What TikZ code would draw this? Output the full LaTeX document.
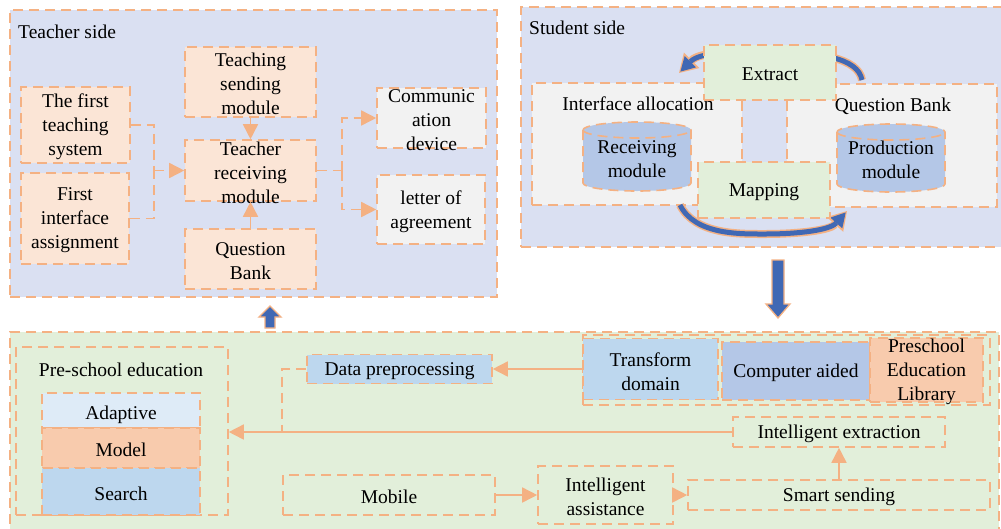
\documentclass[tikz,border=0pt]{standalone}
\usepackage{fontspec}
\setmainfont{Liberation Serif}
\usetikzlibrary{arrows.meta}
\definecolor{ora}{HTML}{F4B183}
\definecolor{panelblue}{HTML}{DAE0F2}
\definecolor{peach}{HTML}{FBE5D6}
\definecolor{lgray}{HTML}{F2F2F2}
\definecolor{lgreen}{HTML}{E2EFDA}
\definecolor{skyb}{HTML}{BDD7EE}
\definecolor{cylb}{HTML}{B4C7E7}
\definecolor{paleb}{HTML}{DEEBF7}
\definecolor{salmon}{HTML}{F8CBAD}
\definecolor{blu}{HTML}{4068B4}
\tikzset{
  fs/.style={font=\fontsize{19.5}{24}\selectfont},
  dsh/.style={dash pattern=on 10pt off 6pt},
  bx/.style={draw=ora, line width=1.6pt, dsh, inner sep=0pt, rectangle},
  txt/.style={fs, align=center, inner sep=0pt, text=black, yshift=-2pt},
  ln/.style={draw=ora, line width=1.6pt},
  dline/.style={ln, dsh},
  arr/.style={ln, -{Triangle[length=15pt,width=15pt]}},
  darr/.style={ln, dsh, -{Triangle[length=15pt,width=15pt]}},
  curvO/.style={draw=ora, line width=8pt, -{Triangle[length=18pt,width=22pt,line width=0pt]}},
  curvB/.style={draw=blu, line width=5pt, shorten >=2pt, -{Triangle[length=14pt,width=16pt,line width=0pt]}},
  curvOn/.style={draw=ora, line width=8pt},
  curvBn/.style={draw=blu, line width=5pt},
  blockarrow/.style={fill=blu, draw=ora, line width=1.3pt},
}
\begin{document}
\begin{tikzpicture}[x=1pt,y=-1pt]
\useasboundingbox (0,0) rectangle (1001,528);

% ---------------- Teacher side ----------------
\node[bx, fill=panelblue, minimum width=487pt, minimum height=287pt] (teacher) at (253.5,153.5) {};
\node[txt, anchor=west] (teacherlbl) at (18,30) {Teacher side};

\node[bx, fill=peach, minimum width=109pt, minimum height=76pt] (tfs) at (75.5,125) {};
\node[txt] (tfs-t) at (tfs) {The first\\teaching\\system};
\node[bx, fill=peach, minimum width=108pt, minimum height=91pt] (fia) at (75,218.5) {};
\node[txt] (fia-t) at (fia) {First\\interface\\assignment};
\node[bx, fill=peach, minimum width=131pt, minimum height=70pt] (tsm) at (250.5,82) {};
\node[txt] (tsm-t) at (tsm) {Teaching\\sending\\module};
\node[bx, fill=peach, minimum width=131pt, minimum height=61pt] (trm) at (250.5,170.5) {};
\node[txt] (trm-t) at (trm) {Teacher\\receiving\\module};
\node[bx, fill=peach, minimum width=131pt, minimum height=60pt] (qb) at (250.5,259) {};
\node[txt] (qb-t) at (qb) {Question\\Bank};
\node[bx, fill=lgray, minimum width=109pt, minimum height=60pt] (comm) at (431.5,118) {};
\node[txt] (comm-t) at (comm) {Communic\\ation\\device};
\node[bx, fill=lgray, minimum width=108pt, minimum height=69pt] (loa) at (431,209.5) {};
\node[txt] (loa-t) at (loa) {letter of\\agreement};

\coordinate (j1) at (154,170.5);
\coordinate (j2) at (342,170.5);
\draw[dline] (tfs.east) -| (j1);
\draw[dline] (fia.east) -| (j1);
\draw[darr] (j1) -- (trm.west);
\draw[arr] (tsm.south) -- (trm.north);
\draw[arr] (qb.north) -- (trm.south);
\draw[dline] (trm.east) -- (j2);
\draw[darr] (j2) |- (comm.west);
\draw[darr] (j2) |- (loa.west);

% ---------------- Student side ----------------
\node[bx, fill=panelblue, minimum width=489pt, minimum height=240pt] (student) at (765.5,127) {};
\node[txt, anchor=west] (studentlbl) at (529,26) {Student side};

\node[bx, fill=lgray, minimum width=210pt, minimum height=122pt] (ialloc) at (637,144) {};
\node[bx, fill=lgray, minimum width=210pt, minimum height=123pt] (qbank) at (892,145.5) {};
\node[txt] (ialloc-t) at (638,102) {Interface allocation};
\node[txt] (qbank-t) at (893,104) {Question Bank};

% curved arrows (behind Extract / Mapping)
\coordinate (ca1) at (862,80);
\coordinate (ca2) at (679,73);
\coordinate (cb1) at (680,205);
\coordinate (cb2) at (847,211);
\draw[curvOn] (ca1) .. controls (858,58) and (820,52) .. (770,52);
\draw[curvBn] (ca1) .. controls (858,58) and (820,52) .. (770,52);
\draw[curvO] (770,52) .. controls (730,52) and (700,52) .. (ca2);
\draw[curvB] (770,52) .. controls (730,52) and (700,52) .. (ca2);
\draw[curvO] (cb1) .. controls (695,235) and (740,234) .. (765,234) .. controls (800,234) and (830,230) .. (cb2);
\draw[curvB] (cb1) .. controls (695,235) and (740,234) .. (765,234) .. controls (800,234) and (830,230) .. (cb2);

\node[bx, fill=lgreen, minimum width=132pt, minimum height=55pt] (extract) at (770,72.5) {};
\node[txt] (extract-t) at (extract) {Extract};
\node[bx, fill=lgreen, minimum width=132pt, minimum height=56pt] (mapping) at (764,190) {};
\node[txt] (mapping-t) at (mapping) {Mapping};

% cylinders
\path[fill=cylb] (583,130) -- (583,183) arc[start angle=180,end angle=0,x radius=54,y radius=8] -- (691,130) arc[start angle=0,end angle=-180,x radius=54,y radius=8] -- cycle;
\draw[dline] (583,130) -- (583,183) arc[start angle=180,end angle=0,x radius=54,y radius=8] -- (691,130) arc[start angle=0,end angle=-180,x radius=54,y radius=8] -- cycle;
\draw[dline] (583,130) arc[start angle=180,end angle=0,x radius=54,y radius=8];
\node[txt] (recv) at (637,157) {Receiving\\module};

\path[fill=cylb] (837,132) -- (837,184) arc[start angle=180,end angle=0,x radius=54,y radius=8] -- (945,132) arc[start angle=0,end angle=-180,x radius=54,y radius=8] -- cycle;
\draw[dline] (837,132) -- (837,184) arc[start angle=180,end angle=0,x radius=54,y radius=8] -- (945,132) arc[start angle=0,end angle=-180,x radius=54,y radius=8] -- cycle;
\draw[dline] (837,132) arc[start angle=180,end angle=0,x radius=54,y radius=8];
\node[txt] (prod) at (891,158) {Production\\module};

% ---------------- Bottom panel ----------------
\node[bx, fill=lgreen, minimum width=989pt, minimum height=208pt] (bottom) at (504.5,436) {};

% block arrows
\path[blockarrow] (772,260) -- (784,260) -- (784,304) -- (790,304) -- (778,318) -- (766,304) -- (772,304) -- cycle;
\path[blockarrow] (265,328) -- (275,328) -- (275,317) -- (281,317) -- (270,306) -- (259,317) -- (265,317) -- cycle;

\node[bx, minimum width=212pt, minimum height=168pt] (pse) at (122,431) {};
\node[txt] (pse-t) at (121,368) {Pre-school education};
\node[bx, fill=paleb, minimum width=158pt, minimum height=35pt] (adapt) at (121,410.5) {};
\node[txt] (adapt-t) at (121,413) {Adaptive};
\node[bx, fill=salmon, minimum width=158pt, minimum height=40pt] (model) at (121,448) {};
\node[txt] (model-t) at (model) {Model};
\node[bx, fill=skyb, minimum width=158pt, minimum height=47pt] (search) at (121,491.5) {};
\node[txt] (search-t) at (search) {Search};

\node[bx, fill=skyb, minimum width=185pt, minimum height=29pt] (dp) at (399.5,369) {};
\node[txt] (dp-t) at (dp) {Data preprocessing};

\node[bx, minimum width=407pt, minimum height=70pt] (tcp) at (786.5,370) {};
\node[bx, fill=skyb, minimum width=135pt, minimum height=61pt] (td) at (650.5,369) {};
\node[txt] (td-t) at (650.5,370) {Transform\\domain};
\node[bx, fill=cylb, minimum width=148pt, minimum height=58pt] (ca) at (796,371) {};
\node[txt] (ca-t) at (ca) {Computer aided};
\node[bx, fill=salmon, minimum width=113pt, minimum height=64pt] (pel) at (926.5,370) {};
\node[txt] (pel-t) at (pel) {Preschool\\Education\\Library};

\node[bx, minimum width=212pt, minimum height=30pt] (ie) at (839,432) {};
\node[txt] (ie-t) at (ie) {Intelligent extraction};
\node[bx, minimum width=302pt, minimum height=30pt] (ss) at (839,495) {};
\node[txt] (ss-t) at (ss) {Smart sending};
\node[bx, minimum width=135pt, minimum height=58pt] (ia) at (605.5,495) {};
\node[txt] (ia-t) at (ia) {Intelligent\\assistance};
\node[bx, minimum width=212pt, minimum height=40pt] (mob) at (389,495) {};
\node[txt] (mob-t) at (mob) {Mobile};

\coordinate (j3) at (282,432);
\draw[arr] (td.west) -- (dp.east);
\draw[dline] (dp.west) -| (j3);
\draw[arr] (ie.west) -- (ie.west -| pse.east);
\draw[arr] (ss.north) -- (ie.south);
\draw[arr] (ia.east) -- (ss.west);
\draw[arr] (mob.east) -- (ia.west);
\end{tikzpicture}
\end{document}
